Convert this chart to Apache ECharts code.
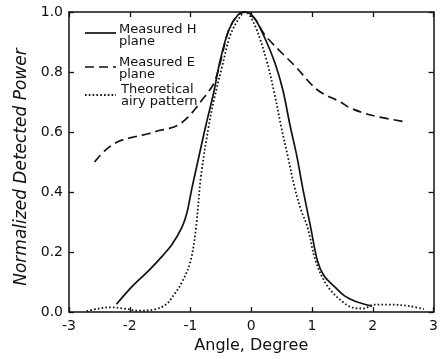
<!DOCTYPE html>
<html>
<head>
<meta charset="utf-8">
<style>
  html, body { margin: 0; padding: 0; background: #fff; }
  #chart { width: 441px; height: 359px; }
</style>
<script src="https://cdn.jsdelivr.net/npm/echarts@6/dist/echarts.min.js"></script>
</head>
<body>
<div id="chart"></div>
<script>
// 测得的 H 面
var hAngle = [-2.22, -1.96, -1.68, -1.45, -1.3, -1.14, -1.06, -0.98, -0.86, -0.75, -0.62, -0.51, -0.37, -0.22, -0.1, 0.05, 0.23, 0.39, 0.52, 0.64, 0.75, 0.85, 0.98, 1.09, 1.2, 1.37, 1.53, 1.71, 1.85, 1.99]
var hPower = [0.026, 0.086, 0.14, 0.19, 0.227, 0.283, 0.33, 0.41, 0.52, 0.62, 0.73, 0.84, 0.94, 0.99, 1.0, 0.98, 0.91, 0.83, 0.74, 0.62, 0.52, 0.41, 0.28, 0.17, 0.12, 0.085, 0.055, 0.036, 0.027, 0.02]
// 测得的 E 面
var eAngle = [-2.58, -2.4, -2.17, -1.9, -1.68, -1.52, -1.35, -1.19, -1.05, -0.91, -0.8, -0.7, -0.6, -0.5, -0.37, -0.22, -0.1, 0.05, 0.2, 0.28, 0.52, 0.72, 1.09, 1.47, 1.63, 2.0, 2.51]
var ePower = [0.50, 0.54, 0.57, 0.585, 0.595, 0.605, 0.612, 0.625, 0.648, 0.68, 0.71, 0.735, 0.77, 0.84, 0.94, 0.99, 1.0, 0.98, 0.93, 0.91, 0.86, 0.82, 0.74, 0.70, 0.68, 0.655, 0.635]
// 理论 airy 图样
var airyAngle = [-2.71, -2.5, -2.3, -2.1, -1.85, -1.57, -1.4, -1.3, -1.14, -1.0, -0.91, -0.83, -0.7, -0.6, -0.49, -0.35, -0.2, -0.1, 0.05, 0.25, 0.38, 0.49, 0.6, 0.72, 0.82, 0.93, 1.06, 1.26, 1.53, 1.71, 1.85, 2.02, 2.3, 2.6, 2.84]
var airyPower = [0.003, 0.012, 0.016, 0.012, 0.005, 0.01, 0.026, 0.05, 0.1, 0.17, 0.28, 0.45, 0.62, 0.72, 0.81, 0.92, 0.98, 1.0, 0.96, 0.84, 0.73, 0.62, 0.52, 0.41, 0.34, 0.28, 0.17, 0.085, 0.03, 0.013, 0.012, 0.025, 0.025, 0.02, 0.01]

var xTicks = [-3, -2, -1, 0, 1, 2, 3]
var yTicks = [0, 0.2, 0.4, 0.6, 0.8, 1.0]

function pairs(xs, ys) {
  return xs.map(function (x, i) { return [x, ys[i]] })
}

var font = 'DejaVu Sans'
var axisLine = { show: true, onZero: false, lineStyle: { color: '#111', width: 1.5 } }
var tick = { show: true, inside: true, length: 5, lineStyle: { color: '#111', width: 1.3 } }

var chart = echarts.init(document.getElementById('chart'))

function lineSeries(name, data, width, dash) {
  return {
    name: name,
    type: 'line',
    data: data,
    showSymbol: false,
    smooth: 0.35,
    lineStyle: { color: '#111', width: width, type: dash }
  }
}

chart.setOption({
  animation: false,
  grid: { left: 69, right: 4, top: 12, bottom: 43 },
  xAxis: [
    {
      type: 'value', min: xTicks[0], max: xTicks[xTicks.length - 1], interval: 1,
      position: 'bottom',
      name: 'Angle, Degree', nameLocation: 'middle', nameGap: 24,
      nameTextStyle: { fontFamily: font, fontSize: 16, color: '#111' },
      axisLine: axisLine, axisTick: tick, splitLine: { show: false },
      axisLabel: { fontFamily: font, fontSize: 14, color: '#111', margin: 7 }
    },
    {
      type: 'value', min: xTicks[0], max: xTicks[xTicks.length - 1], interval: 1,
      position: 'top',
      axisLine: axisLine, axisTick: tick, splitLine: { show: false },
      axisLabel: { show: false }
    }
  ],
  yAxis: [
    {
      type: 'value', min: yTicks[0], max: yTicks[yTicks.length - 1], interval: 0.2,
      position: 'left',
      name: 'Normalized Detected Power', nameLocation: 'middle', nameGap: 34,
      nameTextStyle: { fontFamily: font, fontSize: 17, fontStyle: 'italic', color: '#111', padding: [0, 10, 0, 0] },
      axisLine: axisLine, axisTick: tick, splitLine: { show: false },
      axisLabel: {
        fontFamily: font, fontSize: 14, color: '#111', margin: 6,
        formatter: function (v) { return v.toFixed(1) }
      }
    },
    {
      type: 'value', min: yTicks[0], max: yTicks[yTicks.length - 1], interval: 0.2,
      position: 'right',
      axisLine: axisLine, axisTick: tick, splitLine: { show: false },
      axisLabel: { show: false }
    }
  ],
  series: [
    lineSeries('Measured H plane', pairs(hAngle, hPower), 1.7, 'solid'),
    lineSeries('Measured E plane', pairs(eAngle, ePower), 1.7, [9, 5]),
    lineSeries('Theoretical airy pattern', pairs(airyAngle, airyPower), 1.8, [1.6, 2.2])
  ],
  // 图例(手工绘制)
  graphic: [
    { type: 'line', shape: { x1: 85, y1: 33, x2: 116, y2: 33 }, style: { stroke: '#111', lineWidth: 1.7 } },
    { type: 'text', left: 119, top: 23, style: { text: 'Measured H\nplane', font: '13px ' + font, fill: '#111', lineHeight: 12 } },
    { type: 'line', shape: { x1: 85, y1: 67, x2: 116, y2: 67 }, style: { stroke: '#111', lineWidth: 1.7, lineDash: [9, 5] } },
    { type: 'text', left: 119, top: 56, style: { text: 'Measured E\nplane', font: '13px ' + font, fill: '#111', lineHeight: 12 } },
    { type: 'line', shape: { x1: 85, y1: 95, x2: 116, y2: 95 }, style: { stroke: '#111', lineWidth: 1.8, lineDash: [1.6, 2.2] } },
    { type: 'text', left: 121, top: 83, style: { text: 'Theoretical\nairy pattern', font: '13px ' + font, fill: '#111', lineHeight: 12 } }
  ]
})
</script>
</body>
</html>
